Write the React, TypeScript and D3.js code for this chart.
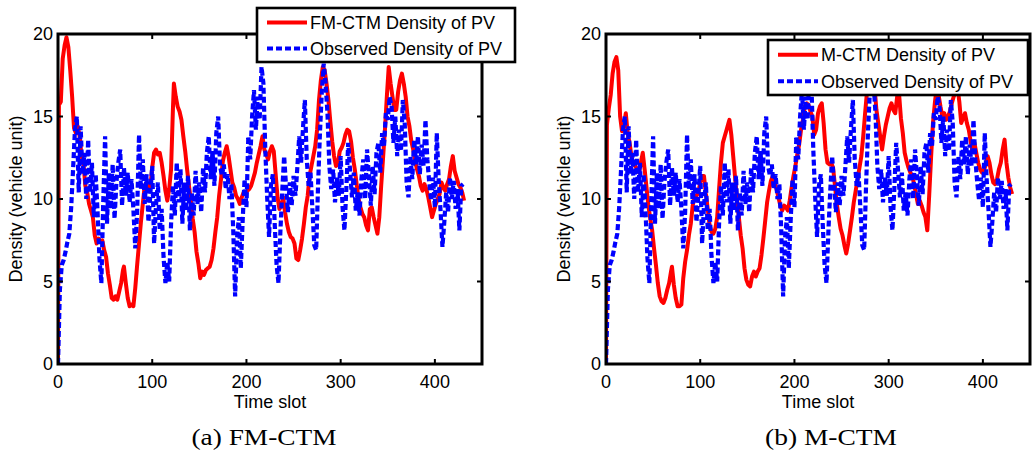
import React from "react";
import * as d3 from "d3";

const xTicks = [0, 100, 200, 300, 400];
const yTicks = [0, 5, 10, 15, 20];

const fmTime = [0,1,3,5,7,9,11,13,15,17,19,21,23,25,27,29,31,33,35,37,39,41,43,45,47,49,51,53,55,57,59,61,63,65,67,69,70,72,74,76,78,80,82,84,86,88,90,92,94,96,98,100,102,104,106,108,110,112,114,116,118,120,122,123,125,127,129,131,133,135,137,139,141,143,145,147,149,151,153,155,157,159,161,163,165,167,169,171,173,175,177,179,181,183,185,187,189,191,193,195,197,199,201,203,205,207,209,211,213,215,217,219,221,223,225,227,229,231,233,235,237,239,241,243,245,247,249,251,253,255,257,259,261,263,265,267,269,271,273,275,277,279,281,283,285,287,289,291,293,295,297,299,301,303,305,307,309,311,313,315,317,319,321,323,325,327,329,331,333,335,337,339,341,343,345,347,349,351,353,355,357,359,361,363,365,367,369,371,373,375,377,379,381,383,385,387,389,391,393,395,397,399,401,403,405,407,409,411,413,415,417,419,421,423,425,427,429,431];
const fmDensity = [0,15.7,15.9,18.5,19.3,19.8,19.2,17.8,16.2,14.3,14.0,14.4,13.8,12.6,12.2,10.8,10.4,9.7,9.3,8.9,7.8,7.3,7.6,7.4,7.5,6.9,6.5,5.5,4.8,4.0,3.9,4.1,3.9,4.4,4.9,5.7,5.9,4.9,4.0,3.5,3.6,3.5,4.6,6.0,7.3,8.6,9.7,10.8,11.0,10.6,10.7,11.9,12.8,13.0,12.7,12.8,12.2,11.4,10.5,9.9,10.6,11.8,15.5,17.0,16.2,15.6,15.3,14.8,13.8,12.9,11.8,10.8,9.9,8.8,8.0,6.8,6.1,5.2,5.6,5.4,5.7,5.8,5.9,6.3,7.0,8.0,8.9,10.2,11.2,12.3,12.8,13.2,12.6,11.8,11.0,10.7,10.2,10.0,9.7,10.1,10.4,10.3,10.5,10.6,10.8,11.2,11.6,12.2,12.7,13.2,13.8,13.0,12.7,12.4,12.9,13.2,12.9,11.5,10.1,9.4,9.6,10.1,9.2,8.5,8.0,7.7,7.6,7.3,6.4,6.3,6.9,7.6,8.5,9.5,10.2,11.4,12.0,12.6,13.2,14.2,16.0,17.2,18.0,17.8,17.0,16.0,14.7,13.5,12.6,12.0,12.1,12.9,13.1,13.4,13.9,14.2,14.1,13.5,12.5,11.8,10.9,10.0,9.5,9.1,8.9,8.4,8.1,9.4,9.5,8.9,8.4,7.9,8.9,10.8,12.5,14.2,16.2,18.0,17.0,16.2,15.4,15.4,16.5,17.2,17.6,17.0,16.2,15.0,14.4,13.5,13.0,12.3,11.8,11.4,10.8,10.5,10.9,10.6,10.1,9.5,8.9,9.3,9.7,10.0,10.3,11.0,10.7,10.5,10.9,11.2,12.0,12.6,11.7,11.3,10.9,10.7,10.4,9.9];

const mTime = [0,1,3,5,7,9,11,13,15,17,19,21,23,25,27,29,31,33,35,37,39,41,43,45,47,49,51,53,55,57,59,61,63,65,67,69,70,72,74,76,78,80,82,84,86,88,90,92,94,96,98,100,102,104,106,108,110,112,114,116,118,120,122,124,126,128,130,131,133,135,137,139,141,143,145,147,149,151,153,155,157,159,161,163,165,167,169,171,173,175,177,179,181,183,185,187,189,191,193,195,197,199,201,203,205,207,209,211,213,215,217,219,221,223,225,227,229,231,233,235,237,239,241,243,245,247,249,251,253,255,257,259,261,263,265,267,269,271,273,275,277,279,281,283,285,287,289,291,293,295,297,299,301,303,305,307,309,311,313,315,317,319,321,323,325,327,329,331,333,335,337,339,341,343,345,347,349,351,353,355,357,359,361,363,365,367,369,371,373,375,377,379,381,383,385,387,389,391,393,395,397,399,401,403,405,407,409,411,413,415,417,419,421,423,425,427,429,431];
const mDensity = [0,14.5,15.5,16.3,17.6,18.3,18.6,17.8,15.0,14.1,14.5,15.2,14.0,13.4,12.6,12.1,12.0,11.8,11.6,12.2,12.8,11.8,10.7,9.6,8.8,8.1,7.0,6.0,4.9,4.1,3.8,3.7,4.0,4.5,4.9,5.6,5.9,4.8,4.0,3.5,3.5,3.6,5.2,6.2,6.9,7.8,8.5,9.6,10.1,10.2,10.4,11.0,11.4,11.4,10.3,9.4,8.4,8.0,7.9,8.2,8.9,10.6,12.2,13.4,13.8,14.2,14.6,14.8,13.9,12.6,11.3,10.0,8.9,7.8,7.0,5.8,5.1,4.8,4.7,5.3,5.6,5.3,5.6,5.8,6.6,7.6,8.7,9.8,10.5,11.1,11.4,11.0,10.6,10.1,9.6,9.3,9.6,9.5,9.3,9.9,10.7,11.4,12.0,12.7,13.3,14.2,14.8,15.6,15.8,15.7,15.3,15.0,13.9,14.2,15.2,15.6,15.8,14.6,13.0,12.2,12.1,12.2,11.9,10.8,9.7,8.9,8.2,7.8,7.2,6.7,7.3,8.1,8.9,9.8,10.5,11.2,11.9,12.6,13.8,15.2,16.5,17.6,18.2,17.8,16.8,15.4,14.6,13.8,13.0,13.8,14.5,15.0,15.5,15.8,15.4,15.2,16.2,16.4,14.9,14.0,12.8,12.3,11.9,11.6,11.4,10.9,10.3,9.7,9.9,9.6,9.2,8.9,8.1,10.2,12.5,14.6,15.8,16.8,16.3,15.6,15.0,15.2,14.8,15.0,15.3,15.8,16.2,16.5,16.8,15.9,14.6,14.9,15.2,14.6,14.2,13.5,12.9,13.4,12.8,12.2,11.8,11.6,11.7,12.1,12.6,12.2,11.5,11.0,10.9,11.2,11.8,12.2,13.0,13.6,12.2,11.3,10.7,10.3];

const obsDensity = [0,4.5,6.0,6.3,6.8,7.4,7.9,9.5,11.8,14.2,15.0,10.4,14.4,11.5,12.8,10.0,13.6,10.4,12.2,8.9,11.5,9.2,6.4,4.9,9.8,13.8,8.5,11.6,9.4,12.1,8.8,11.0,12.2,13.0,9.6,11.9,10.2,11.6,9.8,11.2,9.4,7.0,9.2,13.9,10.6,12.4,9.7,11.5,8.6,10.3,12.0,7.3,9.6,11.0,8.1,9.4,6.5,4.9,6.2,5.0,8.5,10.8,9.0,12.2,9.8,11.8,8.5,11.0,9.3,11.4,8.1,10.4,9.0,11.7,9.7,11.0,9.2,11.9,10.4,12.8,13.8,11.2,12.9,10.8,14.0,15.0,12.0,11.4,12.1,10.6,11.5,10.0,10.9,8.1,4.1,7.6,8.9,5.8,8.7,11.2,9.5,13.8,12.4,15.0,16.6,14.2,16.2,14.8,18.0,17.0,13.0,10.1,7.7,10.8,11.5,8.5,6.0,4.9,8.0,10.5,12.6,10.8,9.2,11.0,9.6,11.4,10.2,11.9,13.8,12.2,14.3,16.0,12.4,10.8,11.6,9.4,7.2,6.9,10.8,14.0,16.5,18.2,17.0,15.2,12.0,10.6,11.8,9.8,11.3,10.2,12.6,9.5,8.1,10.6,13.4,11.7,10.1,11.6,9.3,10.4,9.0,11.2,12.4,10.0,13.0,11.4,9.6,12.0,10.3,12.8,13.4,11.6,14.0,13.2,15.2,14.8,16.2,15.6,13.4,15.0,12.6,14.2,12.9,16.0,14.6,11.0,10.1,12.6,11.2,13.6,12.1,13.8,11.5,13.3,12.0,14.8,12.4,11.0,9.9,11.3,9.5,14.0,11.2,9.3,7.1,8.6,10.4,9.2,11.3,10.0,11.1,9.4,10.6,8.1,10.8,10.9];
const obsTime = obsDensity.map((_, i) => i * 2);

const TOP = 34;
const BOTTOM = 364;
const SANS = "'Liberation Sans', Arial, sans-serif";
const SERIF = "'Liberation Serif', 'Times New Roman', serif";
const RED_W = 4;
const BLUE_W = 4.2;
const DASH = "6,3";

type PanelProps = {
  id: string;
  left: number;
  right: number;
  redT: number[];
  redV: number[];
  redLabel: string;
  legend: { x: number; y: number; w: number; h: number };
  caption: string;
  captionX: number;
  captionLen: number;
};

function Panel(p: PanelProps) {
  const x = d3.scaleLinear().domain([0, 450]).range([p.left, p.right]);
  const y = d3.scaleLinear().domain([0, 20]).range([BOTTOM, TOP]);
  const mk = (ts: number[], vs: number[]) =>
    d3
      .line<number>()
      .x((t) => x(t))
      .y((_, i) => y(vs[i]))(ts) || "";
  const redPath = mk(p.redT, p.redV);
  const bluePath = mk(obsTime, obsDensity);
  const lg = p.legend;
  const row1 = lg.y + lg.h * 0.27;
  const row2 = lg.y + lg.h * 0.75;
  return (
    <g>
      <defs>
        <clipPath id={p.id}>
          <rect x={p.left} y={TOP} width={p.right - p.left} height={BOTTOM - TOP} />
        </clipPath>
      </defs>
      <g clipPath={`url(#${p.id})`}>
        <path d={redPath} fill="none" stroke="#ff0000" strokeWidth={RED_W} strokeLinejoin="round" />
        <path d={bluePath} fill="none" stroke="#0000ff" strokeWidth={BLUE_W} strokeDasharray={DASH} />
      </g>
      {xTicks.map((t) => (
        <g key={"x" + t}>
          <line x1={x(t)} x2={x(t)} y1={BOTTOM} y2={BOTTOM - 5} stroke="#000" strokeWidth={2} />
          <line x1={x(t)} x2={x(t)} y1={TOP} y2={TOP + 5} stroke="#000" strokeWidth={2} />
          <text x={x(t)} y={388} textAnchor="middle" fontFamily={SANS} fontSize={18} fill="#000">
            {t}
          </text>
        </g>
      ))}
      {yTicks.map((t) => (
        <g key={"y" + t}>
          <line x1={p.left} x2={p.left + 5} y1={y(t)} y2={y(t)} stroke="#000" strokeWidth={2} />
          <line x1={p.right} x2={p.right - 5} y1={y(t)} y2={y(t)} stroke="#000" strokeWidth={2} />
          <text x={p.left - 5} y={y(t)} dy="0.36em" textAnchor="end" fontFamily={SANS} fontSize={18} fill="#000">
            {t}
          </text>
        </g>
      ))}
      <rect x={p.left} y={TOP} width={p.right - p.left} height={BOTTOM - TOP} fill="none" stroke="#000" strokeWidth={3} />
      <text x={(p.left + p.right) / 2} y={408} textAnchor="middle" fontFamily={SANS} fontSize={18} fill="#000">
        Time slot
      </text>
      <text
        transform={`translate(${p.left - 36},${(TOP + BOTTOM) / 2}) rotate(-90)`}
        textAnchor="middle"
        fontFamily={SANS}
        fontSize={18}
        fill="#000"
      >
        Density (vehicle unit)
      </text>
      <rect x={lg.x} y={lg.y} width={lg.w} height={lg.h} fill="#fff" stroke="#000" strokeWidth={2.6} />
      <line x1={lg.x + 10} x2={lg.x + 50} y1={row1} y2={row1} stroke="#ff0000" strokeWidth={RED_W} />
      <line x1={lg.x + 10} x2={lg.x + 50} y1={row2} y2={row2} stroke="#0000ff" strokeWidth={BLUE_W} strokeDasharray={DASH} />
      <text x={lg.x + 53} y={row1} dy="0.36em" fontFamily={SANS} fontSize={18} fill="#000">
        {p.redLabel}
      </text>
      <text x={lg.x + 53} y={row2} dy="0.36em" fontFamily={SANS} fontSize={18} fill="#000">
        Observed Density of PV
      </text>
      <text
        x={p.captionX}
        y={445}
        textAnchor="middle"
        fontFamily={SERIF}
        fontSize={24}
        fill="#000"
        textLength={p.captionLen}
        lengthAdjust="spacingAndGlyphs"
      >
        {p.caption}
      </text>
    </g>
  );
}

export default function App() {
  return (
    <svg
      width={1032}
      height={458}
      style={{ position: "absolute", left: 0, top: 0, background: "#fff" }}
    >
      <rect x={0} y={0} width={1032} height={458} fill="#fff" />
      <Panel
        id="clipA"
        left={58}
        right={482}
        redT={fmTime}
        redV={fmDensity}
        redLabel="FM-CTM Density of PV"
        legend={{ x: 257, y: 8, w: 258, h: 54 }}
        caption="(a) FM-CTM"
        captionX={264}
        captionLen={145}
      />
      <Panel
        id="clipB"
        left={606}
        right={1030}
        redT={mTime}
        redV={mDensity}
        redLabel="M-CTM Density of PV"
        legend={{ x: 768, y: 40, w: 260, h: 55 }}
        caption="(b) M-CTM"
        captionX={831}
        captionLen={132}
      />
    </svg>
  );
}
